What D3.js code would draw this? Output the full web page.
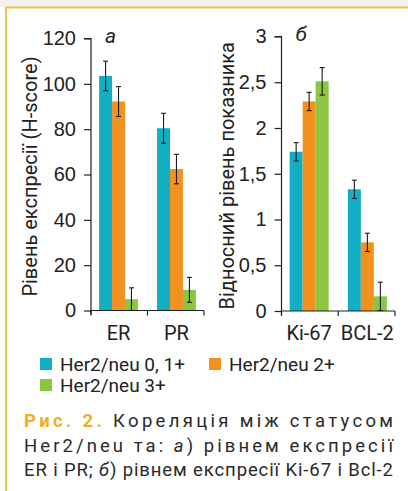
<!DOCTYPE html>
<html>
<head>
<meta charset="utf-8">
<script src="https://cdn.jsdelivr.net/npm/d3@7"></script>
<style>
  body { margin: 0; background: #fff; }
  svg { display: block; font-family: Roboto, "Liberation Sans", sans-serif; }
  .axis path, .axis line { stroke: #222; stroke-width: 1.2; }
  .axis text { font-size: 20px; fill: #222; }
</style>
</head>
<body>
<div id="app"></div>
<script>
// data
const seriesNames = ["Her2/neu 0, 1+", "Her2/neu 2+", "Her2/neu 3+"];
const seriesColors = ["#12aec4", "#f2911f", "#8cc541"];

const groupsA = ["ER", "PR"];
const valuesA = [
  [103.5, 80.4], // 0, 1+
  [92.2, 62.4],  // 2+
  [5, 9.1]       // 3+
];
const errorsA = [
  [6.5, 6.6],
  [6.6, 6.5],
  [5, 5.5]
];
const ticksA = [0, 20, 40, 60, 80, 100, 120];

const groupsB = ["Ki-67", "BCL-2"];
const valuesB = [
  [1.74, 1.33],
  [2.29, 0.75],
  [2.51, 0.16]
];
const errorsB = [
  [0.1, 0.1],
  [0.1, 0.1],
  [0.15, 0.155]
];
const ticksB = [0, 0.5, 1, 1.5, 2, 2.5, 3];

// caption pieces: [text, style] where style b = bold colored, i = italic
const captionLines = [
  [["Рис. 2.", "b"], [" Кореляція між статусом", ""]],
  [["Her2/neu та: ", ""], ["а", "i"], [") рівнем експресії", ""]],
  [["ER і PR; ", ""], ["б", "i"], [") рівнем експресії Ki-67 і Bcl-2", ""]]
];

const svg = d3.select("#app").append("svg").attr("width", 408).attr("height", 491);

// frame
svg.append("rect").attr("x", 0).attr("y", 0).attr("width", 408).attr("height", 7).attr("fill", "#f3f1ec");
svg.append("line").attr("x1", 5).attr("x2", 408).attr("y1", 7.5).attr("y2", 7.5)
  .attr("stroke", "#e8c34d").attr("stroke-width", 1.8);
svg.append("line").attr("x1", 6).attr("x2", 6).attr("y1", 7).attr("y2", 491)
  .attr("stroke", "#e8c34d").attr("stroke-width", 2);

const comma = (d) => String(d).replace(".", ",");

function panel(opts) {
  const { groups, values, errors, ticks, x0, x1, yBottom, yTop, max, label, labelX, letter, format } = opts;
  const g = svg.append("g");

  const x = d3.scaleBand().domain(groups).range([x0, x1]).paddingInner(0.33).paddingOuter(0.14).align(0.5);
  const xs = d3.scaleBand().domain(d3.range(values.length)).range([0, x.bandwidth()]);
  const y = d3.scaleLinear().domain([0, max]).range([yBottom, yTop]);

  // bars
  values.forEach((vals, si) => {
    g.append("g").selectAll("rect")
      .data(groups.map((grp, i) => ({ grp, v: vals[i] })))
      .enter()
      .append("rect")
      .attr("x", (d) => x(d.grp) + xs(si))
      .attr("y", (d) => y(d.v))
      .attr("width", xs.bandwidth())
      .attr("height", (d) => y(0) - y(d.v))
      .attr("fill", seriesColors[si]);
  });

  // error bars
  values.forEach((vals, si) => {
    const eb = g.append("g").attr("stroke", "#1a1a1a").attr("stroke-width", 1.1);
    groups.forEach((grp, i) => {
      const cx = x(grp) + xs(si) + xs.bandwidth() / 2;
      const hi = y(vals[i] + errors[si][i]);
      const lo = y(Math.max(0, vals[i] - errors[si][i]));
      eb.append("line").attr("x1", cx).attr("x2", cx).attr("y1", hi).attr("y2", lo);
      eb.append("line").attr("x1", cx - 2.5).attr("x2", cx + 2.5).attr("y1", hi).attr("y2", hi);
      if (vals[i] - errors[si][i] > 0)
        eb.append("line").attr("x1", cx - 2.5).attr("x2", cx + 2.5).attr("y1", lo).attr("y2", lo);
    });
  });

  // y axis
  g.append("g")
    .attr("class", "axis")
    .attr("transform", `translate(${x0},0)`)
    .call(d3.axisLeft(y).tickValues(ticks).tickSize(7).tickPadding(8).tickFormat(format))
    .call((a) => a.select(".domain").attr("d", `M-7,${yTop}H0V${yBottom + 4}`));

  // x axis: ticks between groups, labels at group centres
  const bounds = [x0, (x(groups[0]) + x.bandwidth() + x(groups[1])) / 2, x1];
  g.append("line").attr("x1", x0).attr("x2", x1).attr("y1", yBottom).attr("y2", yBottom)
    .attr("stroke", "#222").attr("stroke-width", 1.2);
  g.selectAll(".xt").data(bounds).enter().append("line")
    .attr("x1", (d) => d).attr("x2", (d) => d).attr("y1", yBottom).attr("y2", yBottom + 5)
    .attr("stroke", "#222").attr("stroke-width", 1.2);
  g.selectAll(".xl").data(groups).enter().append("text")
    .attr("x", (d) => x(d) + x.bandwidth() / 2)
    .attr("y", yBottom + 29)
    .attr("text-anchor", "middle")
    .attr("font-size", 20)
    .attr("fill", "#222")
    .text((d) => d);

  // axis title
  g.append("text")
    .attr("transform", `translate(${labelX},${(yTop + yBottom) / 2 + 2}) rotate(-90)`)
    .attr("text-anchor", "middle")
    .attr("font-size", 20)
    .attr("fill", "#222")
    .text(label);

  g.append("text")
    .attr("x", x0 + 14)
    .attr("y", yTop + 4)
    .attr("font-size", 21)
    .attr("font-style", "italic")
    .attr("fill", "#222")
    .text(letter);
}

panel({
  groups: groupsA, values: valuesA, errors: errorsA, ticks: ticksA,
  x0: 91, x1: 204, yBottom: 310.5, yTop: 38.5, max: 120,
  label: "Рівень експресії (H-score)", labelX: 37, letter: "а",
  format: (d) => d
});

panel({
  groups: groupsB, values: valuesB, errors: errorsB, ticks: ticksB,
  x0: 281.5, x1: 395, yBottom: 311, yTop: 36.5, max: 3,
  label: "Відносний рівень показника", labelX: 234, letter: "б",
  format: comma
});

// legend
const legendPos = [[40, 358], [209, 358], [40, 379]];
const legend = svg.append("g");
seriesNames.forEach((name, i) => {
  const [lx, ly] = legendPos[i];
  legend.append("rect").attr("x", lx).attr("y", ly).attr("width", 12).attr("height", 12)
    .attr("fill", seriesColors[i]);
  legend.append("text").attr("x", lx + 20).attr("y", ly + 13)
    .attr("font-size", 19).attr("fill", "#222").text(name);
});

// caption, justified between x = 24 and x = 393
const capY = [427, 452, 476];
captionLines.forEach((parts, i) => {
  const t = svg.append("text")
    .attr("x", 24)
    .attr("y", capY[i])
    .attr("font-size", 18.5)
    .attr("fill", "#2a2a2a")
    .attr("textLength", 369)
    .attr("lengthAdjust", "spacing");
  parts.forEach(([txt, st]) => {
    const sp = t.append("tspan").text(txt);
    if (st === "b") sp.attr("font-weight", "bold").attr("fill", "#f0b020");
    if (st === "i") sp.attr("font-style", "italic");
  });
});
</script>
</body>
</html>
